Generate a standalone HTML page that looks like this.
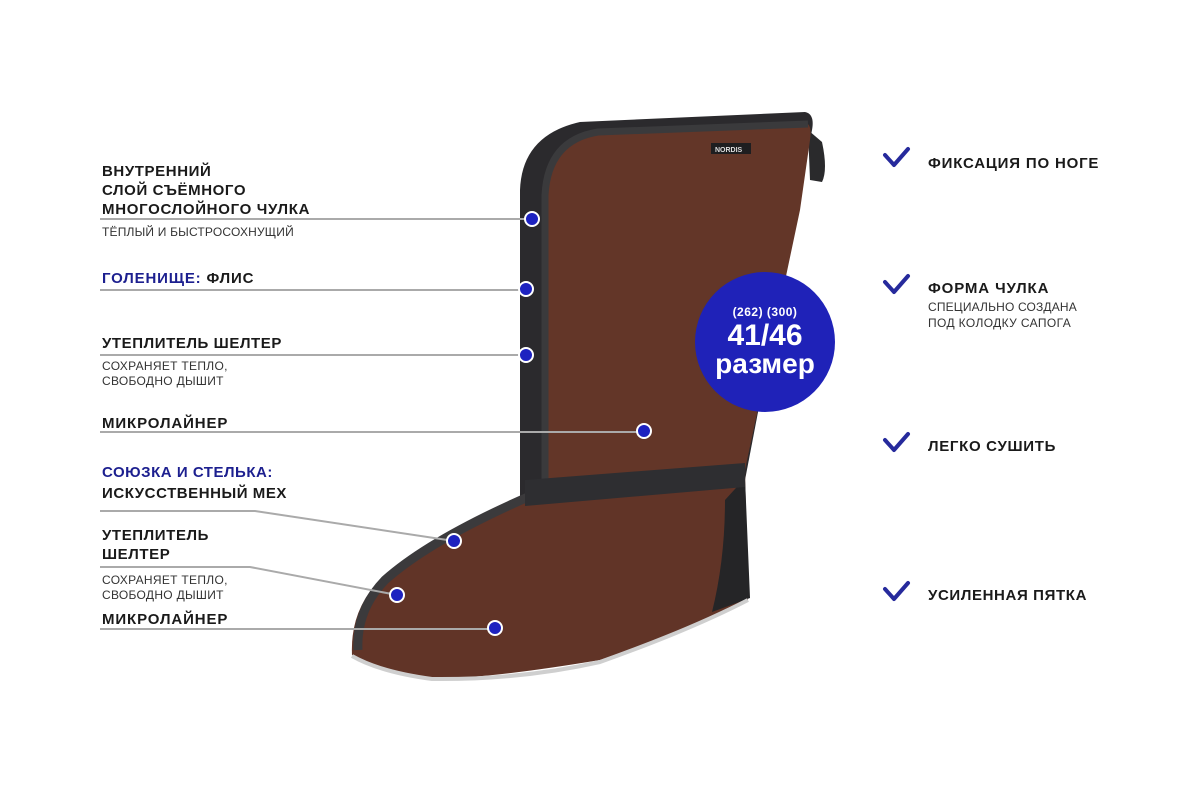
<!DOCTYPE html>
<html><head><meta charset="utf-8"><style>
html,body{margin:0;padding:0;background:#fff;}
svg{display:block}
.b{font-family:"Liberation Sans","DejaVu Sans",sans-serif;font-weight:bold;font-size:15px;fill:#1a1a1a;letter-spacing:0.6px}
.s{font-family:"Liberation Sans","DejaVu Sans",sans-serif;font-size:12px;fill:#333;letter-spacing:0.3px}
.bl{fill:#1c1f8f}
.ln{stroke:#aaa;stroke-width:2;fill:none}
.dot{fill:#1d22c0;stroke:#fff;stroke-width:2}
.ck{stroke:#262a9c;stroke-width:4;fill:none;stroke-linecap:round;stroke-linejoin:round}
</style></head><body>
<svg width="1200" height="800" viewBox="0 0 1200 800" xmlns="http://www.w3.org/2000/svg">
<path d="M520 500 L520 190 Q522 135 580 122 L805 112 Q815 114 812 130 L745 480 Z" fill="#2b2a2d"/>
<path d="M808 130 L822 142 Q828 170 822 182 L810 180 Z" fill="#2a2a2c"/>
<path d="M545 495 L545 195 Q548 140 598 132 L808 124 Q812 128 810 140 L800 210 L745 470 Z" fill="#633628"/>
<path d="M545 495 L545 195 Q548 140 598 132 L808 124" fill="none" stroke="#3a3a3c" stroke-width="7"/>
<path d="M528 495 L745 470 L748 600 Q700 625 600 660 Q480 680 430 678 Q380 670 352 655 Q350 610 380 580 Q430 540 528 495 Z" fill="#613427"/>
<path d="M528 497 Q430 540 385 580 Q356 610 358 650" fill="none" stroke="#3b3a3c" stroke-width="9"/>
<path d="M745 478 L750 598 L712 612 Q725 560 725 500 Z" fill="#252527"/>
<path d="M525 480 L745 463 L745 487 L525 506 Z" fill="#2e2e31"/>
<path d="M352 656 Q380 672 432 679 Q520 680 600 662 Q690 630 748 600" fill="none" stroke="#cfcfcf" stroke-width="4"/>
<rect x="711" y="143" width="40" height="11" fill="#1e1e20"/>
<text x="715" y="152" font-family="Liberation Sans,sans-serif" font-size="7" font-weight="bold" fill="#ddd">NORDIS</text>
<circle cx="765" cy="342" r="70" fill="#1f22b8"/>
<text x="765" y="316" text-anchor="middle" font-family="Liberation Sans,sans-serif" font-weight="bold" font-size="12" fill="#fff" letter-spacing="0.5">(262)  (300)</text>
<text x="765" y="345" text-anchor="middle" font-family="Liberation Sans,sans-serif" font-weight="bold" font-size="30" fill="#fff">41/46</text>
<text x="765" y="373" text-anchor="middle" font-family="Liberation Sans,sans-serif" font-weight="bold" font-size="28" fill="#fff">размер</text>

<path class="ln" d="M100 219 H532"/>
<path class="ln" d="M100 290 H526"/>
<path class="ln" d="M100 355 H526"/>
<path class="ln" d="M100 432 H644"/>
<path class="ln" d="M100 511 H255 L454 541"/>
<path class="ln" d="M100 567 H250 L397 595"/>
<path class="ln" d="M100 629 H495"/>
<circle class="dot" cx="532" cy="219" r="7"/>
<circle class="dot" cx="526" cy="289" r="7"/>
<circle class="dot" cx="526" cy="355" r="7"/>
<circle class="dot" cx="644" cy="431" r="7"/>
<circle class="dot" cx="454" cy="541" r="7"/>
<circle class="dot" cx="397" cy="595" r="7"/>
<circle class="dot" cx="495" cy="628" r="7"/>

<text class="b" x="102" y="176">ВНУТРЕННИЙ</text>
<text class="b" x="102" y="195">СЛОЙ СЪЁМНОГО</text>
<text class="b" x="102" y="214" textLength="208">МНОГОСЛОЙНОГО ЧУЛКА</text>
<text class="s" x="102" y="236" textLength="192">ТЁПЛЫЙ И БЫСТРОСОХНУЩИЙ</text>
<text class="b" x="102" y="283" textLength="152"><tspan class="bl">ГОЛЕНИЩЕ:</tspan> ФЛИС</text>
<text class="b" x="102" y="348" textLength="180">УТЕПЛИТЕЛЬ ШЕЛТЕР</text>
<text class="s" x="102" y="370">СОХРАНЯЕТ ТЕПЛО,</text>
<text class="s" x="102" y="385">СВОБОДНО ДЫШИТ</text>
<text class="b" x="102" y="428" textLength="126">МИКРОЛАЙНЕР</text>
<text class="b bl" x="102" y="477" textLength="171">СОЮЗКА И СТЕЛЬКА:</text>
<text class="b" x="102" y="498" textLength="185">ИСКУССТВЕННЫЙ МЕХ</text>
<text class="b" x="102" y="540">УТЕПЛИТЕЛЬ</text>
<text class="b" x="102" y="559">ШЕЛТЕР</text>
<text class="s" x="102" y="584">СОХРАНЯЕТ ТЕПЛО,</text>
<text class="s" x="102" y="599">СВОБОДНО ДЫШИТ</text>
<text class="b" x="102" y="624" textLength="126">МИКРОЛАЙНЕР</text>

<path class="ck" d="M885 155 L894 165 L908 149"/>
<text class="b" x="928" y="168" textLength="171">ФИКСАЦИЯ ПО НОГЕ</text>
<path class="ck" d="M885 282 L894 292 L908 276"/>
<text class="b" x="928" y="293" textLength="121">ФОРМА ЧУЛКА</text>
<text class="s" x="928" y="311" textLength="149">СПЕЦИАЛЬНО СОЗДАНА</text>
<text class="s" x="928" y="327" textLength="143">ПОД КОЛОДКУ САПОГА</text>
<path class="ck" d="M885 440 L894 450 L908 434"/>
<text class="b" x="928" y="451" textLength="128">ЛЕГКО СУШИТЬ</text>
<path class="ck" d="M885 589 L894 599 L908 583"/>
<text class="b" x="928" y="600" textLength="159">УСИЛЕННАЯ ПЯТКА</text>
</svg>
</body></html>
